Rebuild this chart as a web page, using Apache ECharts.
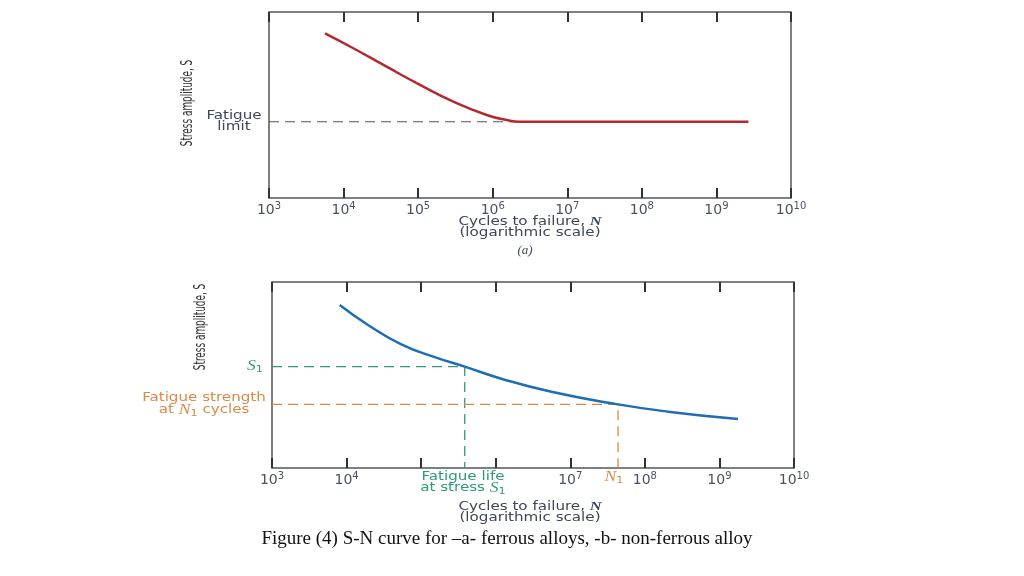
<!DOCTYPE html>
<html>
<head>
<meta charset="utf-8">
<script src="https://cdn.jsdelivr.net/npm/echarts@6/dist/echarts.min.js"></script>
<style>html,body{margin:0;padding:0;background:#fff}#c{width:1024px;height:576px}</style>
</head>
<body>
<div id="c"></div>
<script>
// ---- data (cycles N, stress amplitude S in arbitrary units 0..100) ----
const ferrousN = [5.64e3, 1.35e4, 3.78e4, 1.06e5, 2.96e5, 8.3e5, 1.54e6, 2.32e6, 2.69e9];
const ferrousS = [88.5, 80.5, 70.6, 60.8, 51.8, 44.6, 41.9, 41.0, 41.0];
const fatigueLimit = 41.0;
const fatigueLimitN = 2.32e6;

const nonFerrousN = [8.09e3, 1.94e4, 5.43e4, 1.52e5, 3.84e5, 1.19e6, 5.58e6, 4.37e7, 2.05e8, 1.77e9];
const nonFerrousS = [87.6, 76.9, 66.5, 59.6, 54.5, 48.0, 41.0, 34.2, 30.3, 26.3];
const S1 = 54.5, S1life = 3.84e5;       // fatigue life at stress S1
const N1 = 4.37e7, N1strength = 34.2;   // fatigue strength at N1 cycles

const xMin = 1e3, xMax = 1e10;
const bottomHiddenExps = [5, 6];        // tick labels replaced by annotation

const pair = (xs, ys) => xs.map((x, i) => [x, ys[i]]);

const textCol = '#3e4757';
const green = '#2f9a7c';
const orange = '#d98a48';
const labelFont = "'DejaVu Sans', sans-serif";
const W = 1.26; // horizontal stretch for the wide annotation face

function supLabel(hidden) {
  return {
    margin: 3,
    formatter: v => {
      const e = Math.round(Math.log10(v));
      if (hidden && hidden.indexOf(e) >= 0) return '';
      return '{b|10}{s|' + e + '}';
    },
    rich: {
      b: {fontSize: 14, fontFamily: labelFont, color: '#4a5262'},
      s: {fontSize: 10, fontFamily: labelFont, color: '#4a5262', verticalAlign: 'top', padding: [0, 0, 8, 0]}
    }
  };
}
const tick = {show: true, inside: true, length: 10, lineStyle: {color: '#333', width: 2}};

function txt(x, y, text, fill, extra) {
  return Object.assign({type: 'text', x: x, y: y, scaleX: W,
    style: {text: text, font: '12px ' + labelFont, fill: fill, align: 'center', verticalAlign: 'middle'}}, extra || {});
}
function richTxt(x, y, text, fill) {
  return {type: 'text', x: x, y: y, scaleX: W,
    style: {text: text, align: 'center', verticalAlign: 'middle',
      rich: {
        t: {font: '12px ' + labelFont, fill: fill},
        i: {font: "italic 14px 'Liberation Serif', serif", fill: fill},
        n: {font: "italic bold 13px 'Liberation Serif', serif", fill: fill},
        s: {font: '9px ' + labelFont, fill: fill, padding: [7, 0, 0, 0]}
      }}};
}
function yTitle(x, y) {
  return {type: 'text', x: x, y: y, rotation: Math.PI / 2, scaleX: 0.66,
    style: {text: 'Stress amplitude, S', font: "15px 'DejaVu Sans Condensed', 'DejaVu Sans', sans-serif",
      fill: '#333', align: 'center', verticalAlign: 'middle'}};
}

const chart = echarts.init(document.getElementById('c'));
chart.setOption({
  animation: false,
  grid: [
    {left: 269, top: 12, width: 522, height: 186, show: true, borderColor: '#555', borderWidth: 1.5},
    {left: 272, top: 282, width: 522, height: 186, show: true, borderColor: '#555', borderWidth: 1.5}
  ],
  xAxis: [
    {type: 'log', logBase: 10, min: xMin, max: xMax, gridIndex: 0, position: 'bottom',
      axisLine: {show: false}, axisTick: tick, splitLine: {show: false}, axisLabel: supLabel(null)},
    {type: 'log', logBase: 10, min: xMin, max: xMax, gridIndex: 0, position: 'top',
      axisLine: {show: false}, axisTick: tick, splitLine: {show: false}, axisLabel: {show: false}},
    {type: 'log', logBase: 10, min: xMin, max: xMax, gridIndex: 1, position: 'bottom',
      axisLine: {show: false}, axisTick: tick, splitLine: {show: false}, axisLabel: supLabel(bottomHiddenExps)},
    {type: 'log', logBase: 10, min: xMin, max: xMax, gridIndex: 1, position: 'top',
      axisLine: {show: false}, axisTick: tick, splitLine: {show: false}, axisLabel: {show: false}}
  ],
  yAxis: [
    {type: 'value', min: 0, max: 100, gridIndex: 0, axisLine: {show: false}, axisTick: {show: false},
      axisLabel: {show: false}, splitLine: {show: false}},
    {type: 'value', min: 0, max: 100, gridIndex: 1, axisLine: {show: false}, axisTick: {show: false},
      axisLabel: {show: false}, splitLine: {show: false}}
  ],
  series: [
    {type: 'line', xAxisIndex: 0, yAxisIndex: 0, showSymbol: false, symbol: 'none',
      lineStyle: {color: '#555', width: 1.2, type: [10, 6]},
      data: [[xMin, fatigueLimit], [fatigueLimitN, fatigueLimit]]},
    {type: 'line', xAxisIndex: 0, yAxisIndex: 0, showSymbol: false, symbol: 'none', smooth: 0.5,
      lineStyle: {color: '#b4282e', width: 2.5}, data: pair(ferrousN, ferrousS)},
    {type: 'line', xAxisIndex: 2, yAxisIndex: 1, showSymbol: false, symbol: 'none',
      lineStyle: {color: green, width: 1.3, type: [10, 6]},
      data: [[xMin, S1], [S1life, S1], [S1life, 0]]},
    {type: 'line', xAxisIndex: 2, yAxisIndex: 1, showSymbol: false, symbol: 'none',
      lineStyle: {color: orange, width: 1.3, type: [10, 6]},
      data: [[xMin, N1strength], [N1, N1strength], [N1, 0]]},
    {type: 'line', xAxisIndex: 2, yAxisIndex: 1, showSymbol: false, symbol: 'none', smooth: 0.5,
      lineStyle: {color: '#1f6db5', width: 2.5}, data: pair(nonFerrousN, nonFerrousS)}
  ],
  graphic: [
    // top chart
    yTitle(188, 103),
    txt(234, 116, 'Fatigue', textCol),
    txt(234, 127, 'limit', textCol),
    richTxt(530, 222, '{t|Cycles to failure, }{n|N}', textCol),
    txt(530, 233, '(logarithmic scale)', textCol),
    {type: 'text', x: 525, y: 251, style: {text: '(a)', font: "italic 13px 'Liberation Serif', serif", fill: textCol, align: 'center', verticalAlign: 'middle'}},
    // bottom chart
    yTitle(201, 327),
    richTxt(255, 366, '{i|S}{s|1}', green),
    txt(204, 398, 'Fatigue strength', orange),
    richTxt(204, 410, '{t|at }{i|N}{s|1}{t| cycles}', orange),
    txt(463, 477, 'Fatigue life', green),
    richTxt(463, 488, '{t|at stress }{i|S}{s|1}', green),
    richTxt(614, 477, '{i|N}{s|1}', orange),
    richTxt(530, 507, '{t|Cycles to failure, }{n|N}', textCol),
    txt(530, 518, '(logarithmic scale)', textCol),
    // caption
    {type: 'text', x: 507, y: 539, style: {text: 'Figure (4) S-N curve for \u2013a- ferrous alloys, -b- non-ferrous alloy',
      font: "19px 'Liberation Serif', 'Times New Roman', serif", fill: '#111', align: 'center', verticalAlign: 'middle'}}
  ]
});
</script>
</body>
</html>
